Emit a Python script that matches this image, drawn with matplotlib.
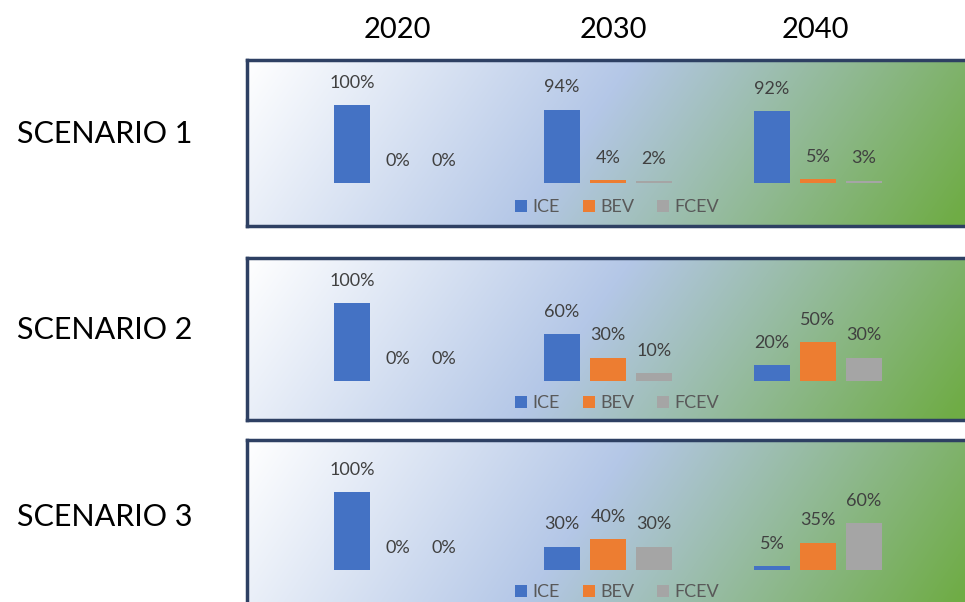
import numpy as np
import matplotlib.pyplot as plt
from matplotlib.patches import Patch
from matplotlib.colors import to_rgb

plt.rcParams['font.family'] = ['Lato', 'DejaVu Sans']

years = ["2020", "2030", "2040"]
scenarios = ["SCENARIO 1", "SCENARIO 2", "SCENARIO 3"]
techs = ["ICE", "BEV", "FCEV"]
colors = ["#4472c4", "#ed7d31", "#a5a5a5"]

# shares (%) per scenario, per technology, per year
scenario1 = {"ICE": [100, 94, 92], "BEV": [0, 4, 5], "FCEV": [0, 2, 3]}
scenario2 = {"ICE": [100, 60, 20], "BEV": [0, 30, 50], "FCEV": [0, 10, 30]}
scenario3 = {"ICE": [100, 30, 5], "BEV": [0, 40, 35], "FCEV": [0, 30, 60]}
all_scenarios = [scenario1, scenario2, scenario3]

W, H = 965, 602
fig = plt.figure(figsize=(W / 100, H / 100), dpi=100)

# panel frames in pixels: (top, bottom, baseline, legend centre)
panels = [(60, 226, 183, 207), (258, 420, 381, 403), (440, 612, 570, 592)]
left_px, right_px = 247, 985
group_x0, group_step = 398, 210   # pixel centre of first group, spacing
bar_step, bar_w = 46 / 210, 36 / 210
px_per_unit = 0.78

# gradient background: white -> light blue -> green
c0, c1, c2 = np.array(to_rgb("#ffffff")), np.array(to_rgb("#b4c7e7")), np.array(to_rgb("#6fac45"))
def gradient(nx=400, ny=100):
    xf = np.linspace(0, 1, nx)[None, :]
    yf = np.linspace(1, 0, ny)[:, None]  # 1 at top
    t = np.clip(0.9 * xf + 0.14 * (1 - yf), 0, 1)
    mid = 0.47
    a = np.clip(t / mid, 0, 1)[..., None]
    b = np.clip((t - mid) / (1 - mid), 0, 1)[..., None]
    img = np.where(t[..., None] <= mid, c0 + (c1 - c0) * a, c1 + (c2 - c1) * b)
    return img

for (top, bot, base, leg_y), data, name in zip(panels, all_scenarios, scenarios):
    ax = fig.add_axes([left_px / W, 1 - bot / H, (right_px - left_px) / W, (bot - top) / H])
    ax.imshow(gradient(), extent=[0, 1, 0, 1], transform=ax.transAxes,
              aspect='auto', zorder=0, interpolation='bilinear')
    xs = np.arange(len(years))
    for k, tech in enumerate(techs):
        vals = data[tech]
        pos = xs + (k - 1) * bar_step
        ax.bar(pos, vals, width=bar_w, color=colors[k], zorder=2)
        for p, v in zip(pos, vals):
            ax.annotate(f"{v}%", (p, v), xytext=(0, 16), textcoords='offset points',
                        ha='center', va='center', fontsize=13, color='#404040', zorder=3)
    ax.set_xlim(-(group_x0 - left_px) / group_step, (right_px - group_x0) / group_step)
    ax.set_ylim(-(bot - base) / px_per_unit, (base - top) / px_per_unit)
    ax.set_xticks([]); ax.set_yticks([])
    for s in ax.spines.values():
        s.set_color('#2e4063'); s.set_linewidth(2.5)
    handles = [Patch(facecolor=c, label=t) for c, t in zip(colors, techs)]
    ax.legend(handles=handles, loc='center', ncol=3, frameon=False,
              bbox_to_anchor=((617 - left_px) / (right_px - left_px), (bot - leg_y) / (bot - top)),
              fontsize=13, labelcolor='#595959', handlelength=0.65, handleheight=0.65,
              handletextpad=0.3, columnspacing=1.3)
    fig.text(17 / W, 1 - ((top + bot) / 2 - 9) / H, name, ha='left', va='center',
             fontsize=22, color='black')

year_px = [397, 613, 815]
for yx, yr in zip(year_px, years):
    fig.text(yx / W, 1 - 30 / H, yr, ha='center', va='center', fontsize=21, color='black')

fig.savefig("out.png", dpi=100)
